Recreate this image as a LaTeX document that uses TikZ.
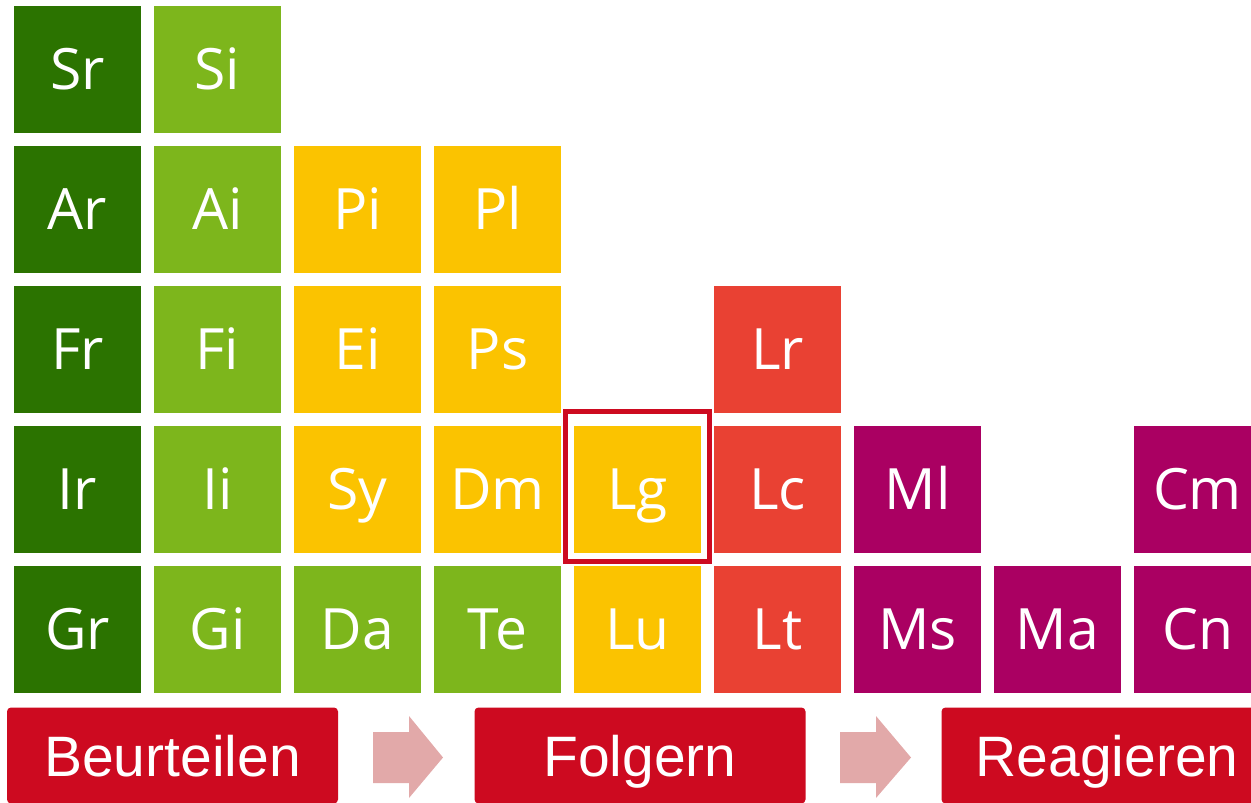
\documentclass[tikz,border=0pt]{standalone}
\usepackage{fontspec}
\setmainfont{Open Sans}
\newfontfamily\barfont{Liberation Sans}
\definecolor{dkgreen}{HTML}{2B7300}
\definecolor{ltgreen}{HTML}{7DB61C}
\definecolor{sunyellow}{HTML}{FBC300}
\definecolor{tilered}{HTML}{E94133}
\definecolor{tilemagenta}{HTML}{AA0062}
\definecolor{barred}{HTML}{CD0A20}
\definecolor{arrowpink}{HTML}{E2A9A9}

\begin{document}
\begin{tikzpicture}
[x=1pt, y=-1pt,
 every node/.style={inner sep=0pt},
 tile/.style={rectangle, minimum size=127pt, text=white, text height=41pt, text depth=0pt, font=\fontsize{57}{60}\selectfont},
 bar/.style={rectangle, rounded corners=4pt, fill=barred, minimum width=331pt, minimum height=96pt, text=white, text height=41pt, text depth=0pt, font=\barfont\fontsize{57}{60}\selectfont}]
\useasboundingbox (0,0) rectangle (1251,803);
\node (Sr) [tile, fill=dkgreen] at (77.5, 69) {Sr};
\node (Ar) [tile, fill=dkgreen] at (77.5, 209) {Ar};
\node (Fr) [tile, fill=dkgreen] at (77.5, 349) {Fr};
\node (Ir) [tile, fill=dkgreen] at (77.5, 489) {Ir};
\node (Gr) [tile, fill=dkgreen] at (77.5, 629) {Gr};
\node (Si) [tile, fill=ltgreen] at (217.5, 69) {Si};
\node (Ai) [tile, fill=ltgreen] at (217.5, 209) {Ai};
\node (Fi) [tile, fill=ltgreen] at (217.5, 349) {Fi};
\node (Ii) [tile, fill=ltgreen] at (217.5, 489) {Ii};
\node (Gi) [tile, fill=ltgreen] at (217.5, 629) {Gi};
\node (Pi) [tile, fill=sunyellow] at (357.5, 209) {Pi};
\node (Ei) [tile, fill=sunyellow] at (357.5, 349) {Ei};
\node (Sy) [tile, fill=sunyellow] at (357.5, 489) {Sy};
\node (Da) [tile, fill=ltgreen] at (357.5, 629) {Da};
\node (Pl) [tile, fill=sunyellow] at (497.5, 209) {Pl};
\node (Ps) [tile, fill=sunyellow] at (497.5, 349) {Ps};
\node (Dm) [tile, fill=sunyellow] at (497.5, 489) {Dm};
\node (Te) [tile, fill=ltgreen] at (497.5, 629) {Te};
\node (Lg) [tile, fill=sunyellow] at (637.5, 489) {Lg};
\node (Lu) [tile, fill=sunyellow] at (637.5, 629) {Lu};
\node (Lr) [tile, fill=tilered] at (777.5, 349) {Lr};
\node (Lc) [tile, fill=tilered] at (777.5, 489) {Lc};
\node (Lt) [tile, fill=tilered] at (777.5, 629) {Lt};
\node (Ml) [tile, fill=tilemagenta] at (917.5, 489) {Ml};
\node (Ms) [tile, fill=tilemagenta] at (917.5, 629) {Ms};
\node (Ma) [tile, fill=tilemagenta] at (1057.5, 629) {Ma};
\node (Cm) [tile, fill=tilemagenta] at (1197.5, 489) {Cm};
\node (Cn) [tile, fill=tilemagenta] at (1197.5, 629) {Cn};
% frame round the current tile
\node (LgFrame) [rectangle, draw=barred, line width=5pt, minimum width=144pt, minimum height=150pt] at (637.5, 486.5) {};
% steps
\node (Beurteilen) [bar] at (172.5, 755.5) {Beurteilen};
\node (Folgern) [bar] at (640, 755.5) {Folgern};
\node (Reagieren) [bar] at (1107, 755.5) {Reagieren};
\fill [arrowpink] (373,732) -- (409,732) -- (409,716) -- (443,757.5) -- (409,798) -- (409,783) -- (373,783) -- cycle;
\fill [arrowpink] (840,732) -- (876,732) -- (876,716) -- (911,757.5) -- (876,798) -- (876,783) -- (840,783) -- cycle;
\end{tikzpicture}
\end{document}
